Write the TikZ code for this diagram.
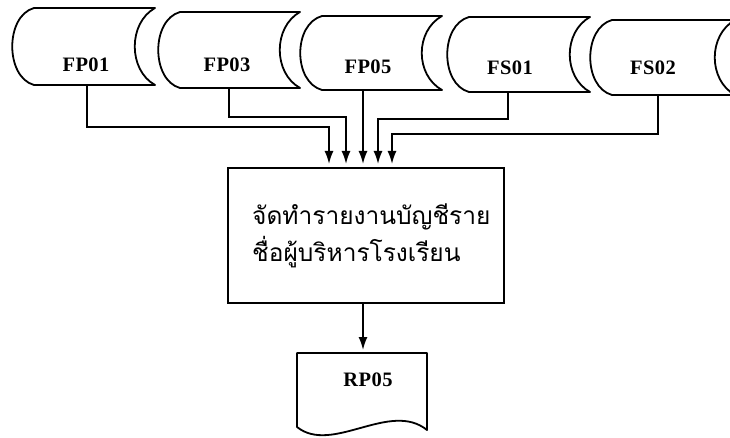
\documentclass[tikz,border=0pt]{standalone}
\usepackage{fontspec}
\setmainfont{Liberation Serif}
\newfontfamily\labfont[LetterSpace=2]{Liberation Serif}
\newfontfamily\thaifont[Script=Thai]{Loma}
\usetikzlibrary{arrows.meta}
\newcommand\stshape[4]{%
  \draw[ln] (#1+22,#3) -- (#2,#3) .. controls (#2-27,#3+15) and (#2-27,#4-15) .. (#2,#4)
    -- (#1+22,#4) .. controls (#1-7,#4-8) and (#1-7,#3+8) .. (#1+22,#3) -- cycle;}
\begin{document}
\begin{tikzpicture}[x=1pt,y=-1pt,
  ln/.style={line width=1.8pt, line join=round},
  arr/.style={line width=1.7pt, -{Latex[length=13pt,width=9pt]}, shorten >=3pt},
  lab/.style={font=\labfont\fontsize{20.5}{24}\selectfont\bfseries, inner sep=0pt},
  thai/.style={font=\thaifont\fontsize{24.5}{28}\selectfont, inner sep=0pt, anchor=west}]
\useasboundingbox (0,0) rectangle (730,438);
\begin{scope}
\clip (0,0) rectangle (730,438);
% storage shapes
\stshape{12}{155}{8}{85}
\stshape{158}{300}{12}{88}
\stshape{300}{442}{16}{90}
\stshape{447}{590}{17}{92}
\stshape{590}{735}{20}{95}
\end{scope}
\node[lab] (fp01) at (86,65) {FP01};
\node[lab] (fp03) at (227,65) {FP03};
\node[lab] (fp05) at (368,67) {FP05};
\node[lab] (fs01) at (510,68) {FS01};
\node[lab] (fs02) at (653,68) {FS02};
\coordinate (b1) at (87,85);
\coordinate (b2) at (229,88);
\coordinate (b3) at (363,90);
\coordinate (b4) at (508,92);
\coordinate (b5) at (658,95);
% process box
\node[draw, line width=1.8pt, minimum width=276pt, minimum height=135pt, anchor=north west, inner sep=0pt] (proc) at (227,167) {};
\coordinate (in1) at (329,167);
\coordinate (in2) at (346,167);
\coordinate (in3) at (363,167);
\coordinate (in4) at (378,167);
\coordinate (in5) at (392,167);
\draw[arr] (b1) -- ++(0,42) -| (in1);
\draw[arr] (b2) -- ++(0,29) -| (in2);
\draw[arr] (b3) -- (in3);
\draw[arr] (b4) -- ++(0,27) -| (in4);
\draw[arr] (b5) -- ++(0,39) -| (in5);
\node[thai] (t1) at (252,217) {จัดทำรายงานบัญชีราย};
\node[thai] (t2) at (252,252) {ชื่อผู้บริหารโรงเรียน};
% document
\draw[ln] (297,353) -- (427,353) -- (427,430) .. controls (390,400) and (332,455) .. (297,427) -- cycle;
\node[lab] (rp05) at (368,380) {RP05};
\coordinate (d1) at (363,353);
\draw[arr] (proc.south -| d1) -- (d1);
\end{tikzpicture}
\end{document}
